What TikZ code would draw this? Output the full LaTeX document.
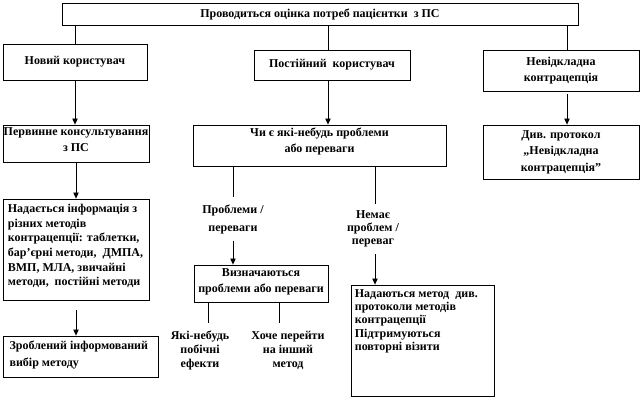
\documentclass[tikz,border=0pt]{standalone}
\usepackage{fontspec}
\setmainfont{Liberation Serif}
\usetikzlibrary{arrows.meta}
\tikzset{
  box/.style={draw, line width=0.6pt, inner sep=0pt, font=\bfseries\fontsize{9}{12.4}\selectfont, align=center},
  txt/.style={font=\bfseries\fontsize{9}{12.4}\selectfont, inner sep=0pt, align=center},
  ln/.style={line width=0.6pt},
  arr/.style={line width=0.6pt, -{Triangle[width=4pt,length=4.5pt]}},
}
\begin{document}
\begin{tikzpicture}[x=0.75pt,y=-0.75pt]
\useasboundingbox (0,0) rectangle (642,409);
% boxes
\node[box, minimum width=516*0.75pt, minimum height=22*0.75pt] (top) at (320,14) {Проводиться оцінка потреб пацієнтки\ \ з ПС};
\node[box, minimum width=144*0.75pt, minimum height=36*0.75pt] (new) at (75,62) {Новий користувач};
\node[box, minimum width=156*0.75pt, minimum height=30*0.75pt] (post) at (332,65) {Постійний\ \ користувач};
\node[box, minimum width=156*0.75pt, minimum height=41*0.75pt] (nev) at (561,70.5) {Невідкладна\\контрацепція};
\node[box, minimum width=146*0.75pt, minimum height=37*0.75pt] (perv) at (76,143.5) {};
\node[box, minimum width=253*0.75pt, minimum height=41*0.75pt] (chy) at (319.5,145.5) {};
\node[box, minimum width=156*0.75pt, minimum height=54*0.75pt] (div) at (561,152) {Див. протокол\\„Невідкладна\\контрацепція”};
\node[box, minimum width=146*0.75pt, minimum height=101*0.75pt] (nad) at (76,249.5) {};
\node[box, minimum width=155*0.75pt, minimum height=41*0.75pt] (zrob) at (80.5,356.5) {};
\node[box, minimum width=134*0.75pt, minimum height=37*0.75pt] (vyz) at (261,283.5) {};
\node[box, minimum width=143*0.75pt, minimum height=111*0.75pt] (nadm) at (422.5,340.5) {};
% texts inside top-aligned boxes
\node[txt, anchor=north] (pervt) at ([yshift=-2pt]perv.north) {Первинне консультування\\з ПС};
\node[txt, anchor=north] (chyt) at ([yshift=-2pt]chy.north) {Чи є які-небудь проблеми\\або переваги};
\node[txt, anchor=north west, align=left, font=\bfseries\fontsize{9}{11}\selectfont] (nadt) at ([xshift=3.75pt,yshift=-4pt]nad.north west) {Надається інформація з\\різних методів\\контрацепції: таблетки,\\бар’єрні методи,\ \ ДМПА,\\ВМП, МЛА, звичайні\\методи,\ \ постійні методи};
\node[txt, anchor=north west, align=left] (zrobt) at ([xshift=5pt,yshift=-4pt]zrob.north west) {Зроблений інформований\\вибір методу};
\node[txt, anchor=north] (vyzt) at ([yshift=-2.6pt]vyz.north) {Визначаються\\проблеми або переваги};
\node[txt, anchor=north west, align=left, font=\bfseries\fontsize{9}{10}\selectfont] (nadmt) at ([xshift=3pt,yshift=-3.4pt]nadm.north west) {Надаються метод\ \ див.\\протоколи методів\\контрацепції\\Підтримуються\\повторні візити};
% labels on connectors
\node[txt, inner ysep=5pt, font=\bfseries\fontsize{9}{13.5}\selectfont] (lab1) at (233,219) {Проблеми /\\переваги};
\node[txt, inner ysep=5pt, font=\bfseries\fontsize{9}{10}\selectfont] (lab2) at (373,229) {Немає\\проблем /\\переваг};
\node[txt, anchor=north, font=\bfseries\fontsize{9}{10.5}\selectfont] (lab3) at (200,331) {Які-небудь\\побічні\\ефекти};
\node[txt, anchor=north, font=\bfseries\fontsize{9}{10.5}\selectfont] (lab4) at (288,331) {Хоче перейти\\на інший\\метод};
% connectors
\draw[ln] (top.south -| new) -- (new.north);
\draw[ln] ([xshift=-3pt]top.south -| post) -- ([xshift=-3pt]post.north);
\draw[ln] ([xshift=4.5pt]top.south -| nev) -- ([xshift=4.5pt]nev.north);
\draw[arr] (new.south) -- (new.south |- perv.north);
\draw[arr] ([xshift=-3pt]post.south) -- ([xshift=-3pt]post.south |- chy.north);
\draw[arr] ([xshift=4.5pt,yshift=-2pt]nev.south) -- ([xshift=4.5pt]nev.south |- div.north);
\draw[arr] (perv.south) -- (perv.south |- nad.north);
\draw[arr] ([yshift=-7.5pt]nad.south) -- (nad.south |- zrob.north);
\draw[ln] (chy.south -| lab1) -- (lab1.north);
\draw[arr] (lab1.south) -- (lab1.south |- vyz.north);
\draw[ln] ([xshift=1.5pt]chy.south -| lab2) -- ([xshift=1.5pt]lab2.north);
\draw[arr] ([xshift=1.5pt]lab2.south) -- ([xshift=1.5pt]lab2.south |- nadm.north);
\draw[ln] ([xshift=6pt]lab3.north |- vyz.south) -- ([xshift=6pt,yshift=6pt]lab3.north);
\draw[ln] ([xshift=-6.5pt]lab4.north |- vyz.south) -- ([xshift=-6.5pt,yshift=6pt]lab4.north);
\end{tikzpicture}
\end{document}
